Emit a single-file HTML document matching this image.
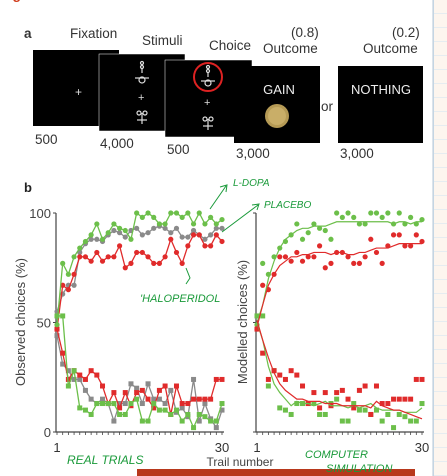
<!DOCTYPE html>
<html><head><meta charset="utf-8"><style>
html,body{margin:0;padding:0;background:#fff;}
body{width:447px;height:476px;overflow:hidden;position:relative;font-family:"Liberation Sans",sans-serif;}
svg{position:absolute;left:0;top:0;}
</style></head><body>
<svg id="s" width="447" height="476" viewBox="0 0 447 476" xmlns="http://www.w3.org/2000/svg">
<defs>
<pattern id="grid" width="14" height="14" patternUnits="userSpaceOnUse"><rect width="14" height="14" fill="#fdf5ee"/><path d="M14 0V14M0 14H14" stroke="#cfe3f2" stroke-width="1"/></pattern>
</defs>
<rect x="433" y="0" width="14" height="476" fill="url(#grid)"/>
<line x1="433" y1="0" x2="433" y2="476" stroke="#b9c7d4" stroke-width="1"/>
<text x="0" y="-1" font-size="14" fill="#d03a1a" font-weight="bold">Figure 1 </text>
<g font-size="13.5" fill="#333">
<text x="24" y="38" font-weight="bold">a</text>
<text x="70" y="38">Fixation</text>
<text x="142" y="45">Stimuli</text>
<text x="209" y="50">Choice</text>
<text x="291" y="37">(0.8)</text>
<text x="263" y="53">Outcome</text>
<text x="392" y="37">(0.2)</text>
<text x="363" y="53">Outcome</text>
<rect x="33" y="50" width="86" height="76" fill="#000"/>
<text x="75" y="96" fill="#ddd" font-size="12">+</text>
<rect x="99" y="54" width="86" height="77" fill="#000" stroke="#fff" stroke-width="0.5"/>
<g stroke="#ddd" fill="none" stroke-width="1.2">
<circle cx="142" cy="63" r="1.5"/><circle cx="142" cy="67" r="1.5"/><line x1="142" y1="69" x2="142" y2="73"/><line x1="135" y1="78" x2="149" y2="78"/><circle cx="142" cy="80" r="3"/>
<circle cx="139" cy="113" r="2"/><circle cx="145" cy="113" r="2"/><line x1="142" y1="113" x2="142" y2="124"/><line x1="137" y1="120" x2="147" y2="120"/>
</g>
<text x="138" y="101" fill="#ddd" font-size="11">+</text>
<rect x="165" y="60" width="87" height="77" fill="#000" stroke="#fff" stroke-width="0.5"/>
<g stroke="#ddd" fill="none" stroke-width="1.2">
<circle cx="208" cy="67" r="1.5"/><circle cx="208" cy="71" r="1.5"/><line x1="208" y1="73" x2="208" y2="77"/><line x1="201" y1="81" x2="215" y2="81"/><circle cx="208" cy="83" r="3"/>
<circle cx="205" cy="119" r="2"/><circle cx="211" cy="119" r="2"/><line x1="208" y1="119" x2="208" y2="130"/><line x1="203" y1="126" x2="213" y2="126"/>
</g>
<circle cx="208" cy="77" r="14" stroke="#d22" stroke-width="2" fill="none"/>
<text x="204" y="106" fill="#ddd" font-size="11">+</text>
<rect x="234" y="66" width="86" height="77" fill="#000"/>
<text x="279" y="94" fill="#eee" font-size="13" text-anchor="middle">GAIN</text>
<circle cx="277" cy="116" r="12" fill="#b59a55"/>
<circle cx="277" cy="116" r="9" fill="#c9ae68"/>
<text x="321" y="111">or</text>
<rect x="338" y="66" width="85" height="77" fill="#000"/>
<text x="381" y="94" fill="#eee" font-size="13" text-anchor="middle">NOTHING</text>
<text x="35" y="144">500</text>
<text x="100" y="148">4,000</text>
<text x="167" y="154">500</text>
<text x="236" y="158">3,000</text>
<text x="340" y="158">3,000</text>
</g>
<text x="24" y="192" font-size="13" font-weight="bold" fill="#222">b</text>
<g id="plots"></g>
<rect x="137" y="469" width="278" height="7" fill="#b8381c"/>
<text x="240" y="466" font-size="12" fill="#444" text-anchor="middle">Trail number</text>
<g fill="#1a9a3a" font-family="'Liberation Sans',sans-serif" font-style="italic">
<text x="233" y="186" font-size="10">L-DOPA</text>
<text x="264" y="208" font-size="10">PLACEBO</text>
<text x="140" y="302" font-size="11">'HALOPERIDOL</text>
<text x="67" y="464" font-size="12">REAL TRIALS</text>
<text x="305" y="458" font-size="11">COMPUTER</text>
<text x="326" y="472" font-size="11">SIMULATION</text>
<path d="M210 209 L226 186 M220 187 L227 185 L226 192" stroke="#1a9a3a" fill="none" stroke-width="1"/>
<path d="M222 232 L258 205 M252 205 L259 204 L257 210" stroke="#1a9a3a" fill="none" stroke-width="1"/>
<path d="M186 268 L190 278 L186 284" stroke="#1a9a3a" fill="none" stroke-width="1"/>
</g>
</svg>
<script>
const trials = [1,2,3,4,5,6,7,8,9,10,11,12,13,14,15,16,17,18,19,20,21,22,23,24,25,26,27,28,29,30];
const obsGreenUp = [49,77,72,80,84,87,90,95,88,91,95,93,92,88,100,98,100,98,95,95,100,100,98,100,95,100,95,98,95,97];
const obsGrayUp  = [55,63,67,67,82,86,88,88,87,90,92,91,89,92,93,90,91,93,94,93,91,93,89,89,92,90,88,90,93,93];
const obsRedUp   = [47,67,65,72,80,80,78,82,78,80,80,85,75,77,82,82,80,77,77,80,88,82,77,85,90,90,85,85,90,87];
const obsGreenDn = [53,53,21,28,11,10,8,13,13,13,13,8,8,13,15,5,5,13,10,10,8,10,5,8,2,8,7,5,5,13];
const obsGrayDn  = [44,31,28,24,24,19,15,13,15,13,5,13,13,22,20,13,22,15,15,13,19,9,11,7,24,5,13,6,2,10];
const obsRedDn   = [47,36,24,28,26,24,28,26,21,13,18,11,18,12,18,19,15,11,19,21,8,21,13,13,15,15,15,15,24,24];
const modGreenUp = [50,58,70,78,84,88,90,92,93,93,94,94,94,95,96,96,96,96,96,96,96,96,96,96,95,96,96,95,96,96];
const modRedUp   = [48,58,67,72,76,78,80,80,81,81,82,82,82,81,82,82,81,81,82,82,83,84,84,84,85,86,86,86,86,86];
const modGreenDn = [50,42,30,22,18,15,12,14,13,13,12,13,14,12,12,12,11,12,11,12,13,11,10,10,10,10,9,9,9,11];
const modRedDn   = [51,42,34,27,22,19,17,15,15,14,14,14,13,13,13,12,12,12,12,12,11,14,12,11,10,10,9,8,7,6];
const yTicks = [0,50,100];
const xTickLabels = [1,30];

const NS='http://www.w3.org/2000/svg';
const root=document.getElementById('plots');
function mk(tag,attrs,parent){const e=document.createElementNS(NS,tag);for(const k in attrs)e.setAttribute(k,attrs[k]);(parent||root).appendChild(e);return e;}
const GREEN='#6cbf4a', RED='#e02b2b', GRAY='#8a8a8a';
function makePlot(x0,x1,y0,y1,name){
  const sx=t=>x0+(t-1)*(x1-x0)/29;
  const sy=v=>y0-v*(y0-y1)/100;
  const g=mk('g',{});
  
  
  const ax=mk('path',{d:`M${x0-1} ${sy(100)} V${y0} H${x1+2}`,stroke:'#444','stroke-width':1.2,fill:'none'},g);
  
  
  trials.forEach(t=>{mk('line',{x1:sx(t),x2:sx(t),y1:y0,y2:y0+3,stroke:'#444','stroke-width':0.8},g);});
  yTicks.forEach(v=>{mk('line',{x1:x0-4,x2:x0-1,y1:sy(v),y2:sy(v),stroke:'#444','stroke-width':1},g);});
  return {g,sx,sy};
}
function lineSeries(p,vals,color,name,w){
  const l=mk('polyline',{points:vals.map((v,i)=>p.sx(trials[i])+','+p.sy(v)).join(' '),fill:'none',stroke:color,'stroke-width':w||1.4},p.g);
  
  
}
function dots(p,vals,color,name,sq){
  vals.forEach((v,i)=>{
    let e;
    if(sq) e=mk('rect',{x:p.sx(trials[i])-2.5,y:p.sy(v)-2.5,width:5,height:5,fill:color},p.g);
    else e=mk('circle',{cx:p.sx(trials[i]),cy:p.sy(v),r:2.6,fill:color},p.g);
    
    
  });
}
const L=makePlot(57,222,432,213,'observed-plot');
[[obsGrayUp,GRAY,'gray-up'],[obsGrayDn,GRAY,'gray-down'],[obsRedUp,RED,'red-up'],[obsRedDn,RED,'red-down'],[obsGreenUp,GREEN,'green-up'],[obsGreenDn,GREEN,'green-down']].forEach(([v,c,n])=>{
  lineSeries(L,v,c,'observed-'+n+'-line',1.3);
  dots(L,v,c,'observed-'+n+'-point',n.endsWith('down'));
});
const R=makePlot(257,422,432,213,'modelled-plot');
dots(R,obsGreenUp,GREEN,'modelled-green-up-point',false);
dots(R,obsRedUp,RED,'modelled-red-up-point',false);
dots(R,obsGreenDn,GREEN,'modelled-green-down-point',true);
dots(R,obsRedDn,RED,'modelled-red-down-point',true);
lineSeries(R,modGreenUp,GREEN,'modelled-green-up-line',1.2);
lineSeries(R,modRedUp,RED,'modelled-red-up-line',1.2);
lineSeries(R,modGreenDn,GREEN,'modelled-green-down-line',1.2);
lineSeries(R,modRedDn,RED,'modelled-red-down-line',1.2);
yTicks.forEach(v=>{
  const t=mk('text',{x:51,y:L.sy(v)+5,'font-size':13,fill:'#444','text-anchor':'end'});
  t.textContent=v;
  
  
});
[[L,'left'],[R,'right']].forEach(([p,n])=>{
  xTickLabels.forEach(v=>{
    const t=mk('text',{x:p.sx(v),y:452,'font-size':13,fill:'#333','text-anchor':'middle'});
    t.textContent=v;
    
    
  });
});
const yt1=mk('text',{x:0,y:0,'font-size':13,fill:'#444','text-anchor':'middle',transform:'translate(25,322) rotate(-90)'});
yt1.textContent='Observed choices (%)';


const yt2=mk('text',{x:0,y:0,'font-size':13,fill:'#444','text-anchor':'middle',transform:'translate(247,322) rotate(-90)'});
yt2.textContent='Modelled choices (%)';


</script>
</body></html>
